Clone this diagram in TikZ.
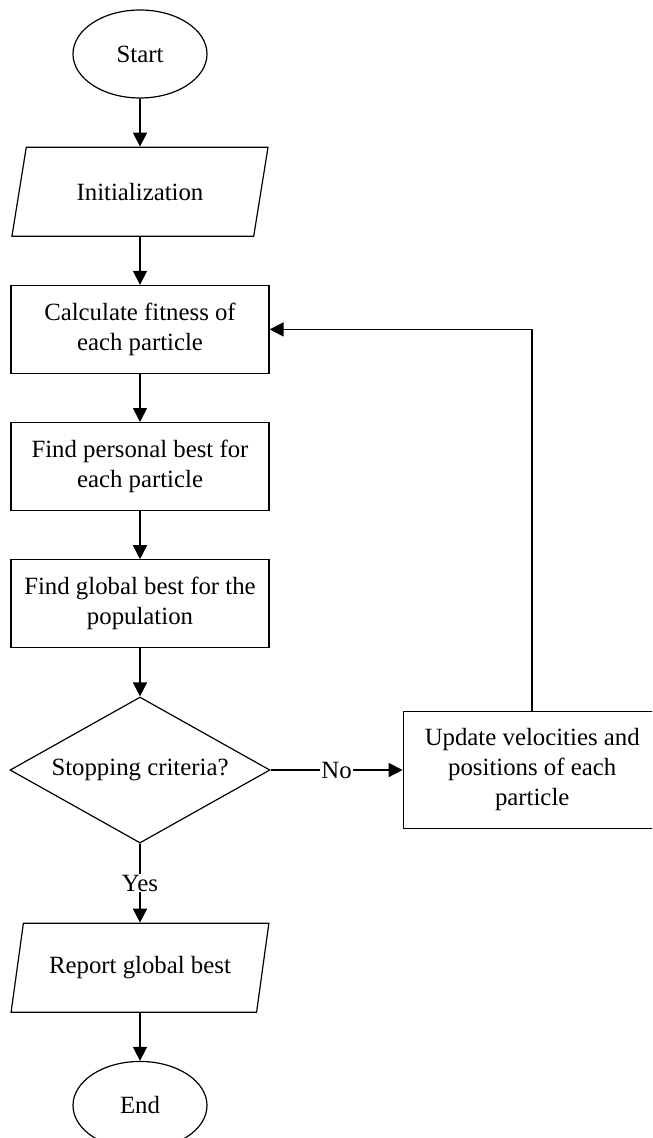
\documentclass[tikz,border=0pt]{standalone}
\usepackage{fontspec}
\setmainfont{Liberation Serif}
\usetikzlibrary{arrows.meta, positioning, shapes.geometric}

\begin{document}
\begin{tikzpicture}[
  font=\fontsize{12.4pt}{15pt}\selectfont,
  node distance=24pt,
  term/.style={draw, line width=0.6pt, ellipse, minimum width=67pt, minimum height=44pt, inner sep=0pt},
  io/.style={draw, line width=0.6pt, trapezium, trapezium left angle=74, trapezium right angle=106,
    trapezium stretches=true, minimum width=129pt, minimum height=44.5pt, align=center},
  proc/.style={draw, line width=0.6pt, rectangle, minimum width=129pt, minimum height=44pt, align=center},
  dec/.style={draw, line width=0.6pt, diamond, aspect=1.78, minimum width=130pt, minimum height=73pt, inner sep=0pt},
  edge/.style={-{Triangle[length=7pt, width=7pt]}, line width=0.8pt},
  lbl/.style={fill=white, inner sep=0.5pt}
]
\useasboundingbox (0,0) rectangle (326pt,-569pt);
\clip (0,0) rectangle (326pt,-569pt);

\node[term] (start) at (70pt,-27pt) {Start};
\node[io, below=of start] (init) {Initialization};
\node[proc, below=of init] (fit) {Calculate fitness of\\each particle};
\node[proc, below=of fit] (pbest) {Find personal best for\\each particle};
\node[proc, below=of pbest] (gbest) {Find global best for the\\population};
\node[dec, below=of gbest] (stop) {Stopping criteria?};
\node[proc, right=66pt of stop, minimum height=58.5pt] (update) {Update velocities and\\positions of each\\particle};
\node[io, below=39.5pt of stop] (report) {Report global best};
\node[term, below=of report] (finish) {End};

\draw[edge] (start) -- (init);
\draw[edge] (init) -- (fit);
\draw[edge] (fit) -- (pbest);
\draw[edge] (pbest) -- (gbest);
\draw[edge] (gbest) -- (stop);
\draw[edge] (stop) -- node[lbl] {No} (update);
\draw[edge] (update.north) |- (fit.east);
\draw[edge] (stop) -- node[lbl] {Yes} (report);
\draw[edge] (report) -- (finish);
\end{tikzpicture}
\end{document}
